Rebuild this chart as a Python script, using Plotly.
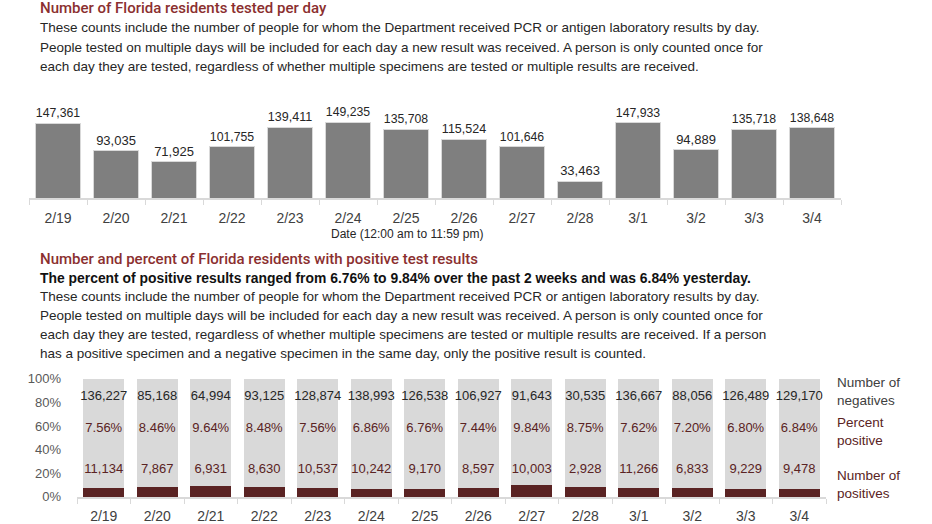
import plotly.graph_objects as go

dates = ["2/19", "2/20", "2/21", "2/22", "2/23", "2/24", "2/25", "2/26", "2/27", "2/28", "3/1", "3/2", "3/3", "3/4"]
tested = [147361, 93035, 71925, 101755, 139411, 149235, 135708, 115524, 101646, 33463, 147933, 94889, 135718, 138648]
negatives = [136227, 85168, 64994, 93125, 128874, 138993, 126538, 106927, 91643, 30535, 136667, 88056, 126489, 129170]
positives = [11134, 7867, 6931, 8630, 10537, 10242, 9170, 8597, 10003, 2928, 11266, 6833, 9229, 9478]
pct_positive = [7.56, 8.46, 9.64, 8.48, 7.56, 6.86, 6.76, 7.44, 9.84, 8.75, 7.62, 7.20, 6.80, 6.84]

W, H = 932, 524
def px(x):
    return x / W
def py(y):
    # map a target pixel row to paper coordinates (compensates the observed vertical offset/scale)
    return 1 - ((y - 7.8) / 0.970) / H

FONT = "Liberation Sans, Arial, sans-serif"
TFONT = "Roboto, Liberation Sans, Arial, sans-serif"
GREY_BAR = "#7f7f7f"
LIGHT = "#d9d9d9"
MAROON = "#5a2323"
TITLE_RED = "#8b2f2f"
TXT = "#262626"

tot = [p + n for p, n in zip(positives, negatives)]
pos_share = [p / t for p, t in zip(positives, tot)]
neg_share = [n / t for n, t in zip(negatives, tot)]

fig = go.Figure()

# top chart
fig.add_trace(go.Bar(
    x=dates, y=tested, xaxis="x", yaxis="y",
    marker=dict(color=GREY_BAR, line=dict(color=LIGHT, width=1)),
    text=[f"{v:,}" for v in tested], textposition="outside",
    textfont=dict(size=13, color=TXT, family=FONT), cliponaxis=False,
    hoverinfo="x+y",
))

# bottom chart stacked
fig.add_trace(go.Bar(
    x=dates, y=pos_share, xaxis="x2", yaxis="y2",
    marker=dict(color=MAROON, line=dict(width=0)),
))
fig.add_trace(go.Bar(
    x=dates, y=neg_share, xaxis="x2", yaxis="y2",
    marker=dict(color=LIGHT, line=dict(width=0)),
))

# label rows inside bottom bars
fig.add_trace(go.Scatter(
    x=dates, y=[0.847] * len(dates), xaxis="x2", yaxis="y2", mode="text",
    text=[f"{v:,}" for v in negatives], textfont=dict(size=13, color=TXT, family=FONT),
    cliponaxis=False, hoverinfo="skip",
))
fig.add_trace(go.Scatter(
    x=dates, y=[0.576] * len(dates), xaxis="x2", yaxis="y2", mode="text",
    text=[f"{v:.2f}%" for v in pct_positive], textfont=dict(size=13, color=MAROON, family=FONT),
    cliponaxis=False, hoverinfo="skip",
))
fig.add_trace(go.Scatter(
    x=dates, y=[0.229] * len(dates), xaxis="x2", yaxis="y2", mode="text",
    text=[f"{v:,}" for v in positives], textfont=dict(size=13, color=MAROON, family=FONT),
    cliponaxis=False, hoverinfo="skip",
))

annotations = []
def note(x, y, text, size=13.5, color=TXT, anchor="left", family=FONT, weight="normal"):
    annotations.append(dict(x=px(x), y=py(y), xref="paper", yref="paper", text=text,
                            showarrow=False, xanchor=anchor, yanchor="middle",
                            font=dict(size=size, color=color, family=family, weight=weight),
                            align="left"))

note(38, 9, "Number of Florida residents tested per day", size=15, color=TITLE_RED, family=TFONT, weight=500)
note(38, 28, "These counts include the number of people for whom the Department received PCR or antigen laboratory results by day.")
note(38, 48, "People tested on multiple days will be included for each day a new result was received. A person is only counted once for")
note(38, 67, "each day they are tested, regardless of whether multiple specimens are tested or multiple results are received.")
note(407, 234, "Date (12:00 am to 11:59 pm)", size=12, anchor="center")

note(38, 259, "Number and percent of Florida residents with positive test results", size=15, color=TITLE_RED, family=TFONT, weight=500)
note(38, 278, "<b>The percent of positive results ranged from 6.76% to 9.84% over the past 2 weeks and was 6.84% yesterday.</b>", size=13.9, color="#111111")
note(38, 297, "These counts include the number of people for whom the Department received PCR or antigen laboratory results by day.")
note(38, 316, "People tested on multiple days will be included for each day a new result was received. A person is only counted once for")
note(38, 335, "each day they are tested, regardless of whether multiple specimens are tested or multiple results are received. If a person")
note(38, 354, "has a positive specimen and a negative specimen in the same day, only the positive result is counted.")

note(835, 392, "Number of<br>negatives", size=13.5, color="#404040")
note(835, 432, "Percent<br>positive", size=13.5, color=MAROON)
note(835, 485, "Number of<br>positives", size=13.5, color=MAROON)

axis_common = dict(type="category", showline=True, linecolor=LIGHT, linewidth=1.5, ticks="outside",
                   tickson="boundaries", ticklen=5, tickcolor=LIGHT, showgrid=False, zeroline=False,
                   range=[-0.5, len(dates) - 0.5], ticklabelstandoff=6,
                   tickfont=dict(size=14, color="#404040"))

fig.update_layout(
    width=W, height=H, margin=dict(l=0, r=0, t=0, b=0),
    paper_bgcolor="white", plot_bgcolor="white",
    barmode="stack", bargap=0.235, showlegend=False,
    font=dict(family=FONT, color=TXT, size=13),
    annotations=annotations,
    xaxis=dict(domain=[px(29), px(841)], anchor="y", **axis_common),
    yaxis=dict(domain=[py(199), py(107)], anchor="x", range=[0, 180000], visible=False),
    xaxis2=dict(domain=[px(77), px(826)], anchor="y2", **axis_common),
    yaxis2=dict(domain=[py(497), py(379)], anchor="x2", range=[0, 1], tickformat=".0%",
                tickvals=[0, 0.2, 0.4, 0.6, 0.8, 1.0], showgrid=False, zeroline=False,
                showline=False, ticks="", ticklabelstandoff=15,
                tickfont=dict(size=13, color="#595959")),
)

fig.write_html("out.html", config={"displayModeBar": False},
               post_script="document.body.style.margin='0';")
